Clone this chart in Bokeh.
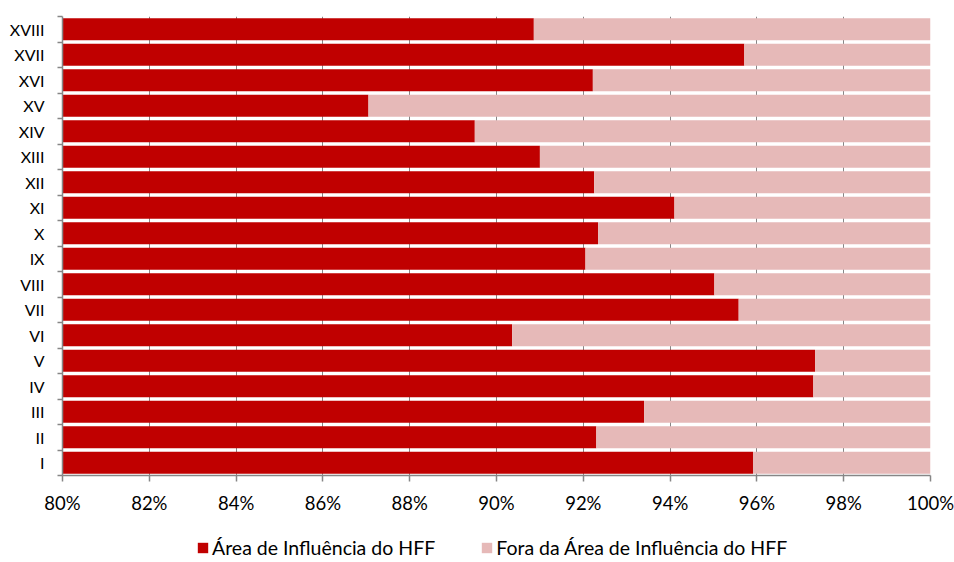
from bokeh.plotting import figure
from bokeh.layouts import column
from bokeh.models import (ColumnDataSource, FixedTicker, NumeralTickFormatter,
                          Range1d, Legend, LegendItem)
from bokeh.embed import file_html
from bokeh.resources import INLINE

# Share of each region inside / outside the HFF area of influence
regions = ["I", "II", "III", "IV", "V", "VI", "VII", "VIII", "IX",
           "X", "XI", "XII", "XIII", "XIV", "XV", "XVI", "XVII", "XVIII"]
inside = [0.9591, 0.9230, 0.9340, 0.9730, 0.9734, 0.9036, 0.9558, 0.9502, 0.9205,
          0.9234, 0.9410, 0.9225, 0.9100, 0.8950, 0.8705, 0.9222, 0.9571, 0.9086]
outside = [1 - v for v in inside]
x_ticks = [0.80, 0.82, 0.84, 0.86, 0.88, 0.90, 0.92, 0.94, 0.96, 0.98, 1.00]
series_names = ["Área de Influência do HFF", "Fora da Área de Influência do HFF"]

DARK = "#C00000"
LIGHT = "#E6B9B8"
GREY = "#868686"
FONT = "Lato"

pos = list(range(1, len(regions) + 1))
src = ColumnDataSource(dict(
    y=pos,
    inside=inside,
    total=[a + b for a, b in zip(inside, outside)],
    zero=[0.0] * len(regions),
))

p = figure(width=954, height=522, output_backend="svg", toolbar_location=None,
           x_range=Range1d(0.80, 1.00), y_range=Range1d(0.5, len(regions) + 0.5),
           min_border_left=62, min_border_right=24, min_border_top=16,
           min_border_bottom=47)
p.outline_line_color = None
p.background_fill_color = "white"

p.hbar(y="y", left="zero", right="inside", height=0.86, source=src,
       fill_color=DARK, line_color=None)
p.hbar(y="y", left="inside", right="total", height=0.86, source=src,
       fill_color=LIGHT, line_color=None)

# grid: vertical lines every 2%, only visible between bars
p.ygrid.visible = False
p.xgrid.grid_line_color = GREY
p.xgrid.grid_line_width = 1
p.xgrid.level = "underlay"

# x axis
p.xaxis.ticker = FixedTicker(ticks=x_ticks)
p.xaxis.formatter = NumeralTickFormatter(format="0%")
p.xaxis.axis_line_color = GREY
p.xaxis.axis_line_width = 1.5
p.xaxis.major_tick_line_color = GREY
p.xaxis.major_tick_line_width = 1.5
p.xaxis.major_tick_out = 6
p.xaxis.major_tick_in = 0
p.xaxis.minor_tick_line_color = None
p.xaxis.major_label_text_font = FONT
p.xaxis.major_label_text_font_size = "18.5px"
p.xaxis.major_label_text_color = "#000000"
p.xaxis.major_label_standoff = 10

# y axis: labels centred on bars, ticks on the category boundaries
p.yaxis.ticker = FixedTicker(ticks=pos, minor_ticks=[i + 0.5 for i in range(len(regions) + 1)])
p.yaxis.major_label_overrides = {i: r for i, r in zip(pos, regions)}
p.yaxis.axis_line_color = GREY
p.yaxis.axis_line_width = 1.5
p.yaxis.major_tick_line_color = None
p.yaxis.major_tick_out = 0
p.yaxis.major_tick_in = 0
p.yaxis.minor_tick_line_color = GREY
p.yaxis.minor_tick_line_width = 1.5
p.yaxis.minor_tick_out = 5
p.yaxis.minor_tick_in = 0
p.yaxis.major_label_text_font = FONT
p.yaxis.major_label_text_font_size = "16px"
p.yaxis.major_label_text_color = "#000000"
p.yaxis.major_label_standoff = 13

# legend strip underneath the chart; its swatch renderers sit outside the view
leg = figure(width=954, height=40, output_backend="svg", toolbar_location=None,
             x_range=Range1d(0, 1), y_range=Range1d(0, 1), min_border=0)
leg.axis.visible = False
leg.grid.visible = False
leg.outline_line_color = None
k1 = leg.hbar(y=[-5], left=[0], right=[1], height=0.8, fill_color=DARK, line_color=None)
k2 = leg.hbar(y=[-5], left=[0], right=[1], height=0.8, fill_color=LIGHT, line_color=None)

legend = Legend(items=[
    LegendItem(label=series_names[0], renderers=[k1]),
    LegendItem(label=series_names[1], renderers=[k2]),
], orientation="horizontal", location=(134, 3))
legend.border_line_color = None
legend.background_fill_alpha = 0
legend.label_text_font = FONT
legend.label_text_font_size = "19.5px"
legend.label_text_color = "#000000"
legend.glyph_width = 13
legend.glyph_height = 13
legend.spacing = 45
legend.label_standoff = 3
legend.padding = 0
legend.margin = 0
legend.label_height = 22
leg.add_layout(legend, "center")

open("out.html", "w").write(file_html(column(p, leg, spacing=0), INLINE))
